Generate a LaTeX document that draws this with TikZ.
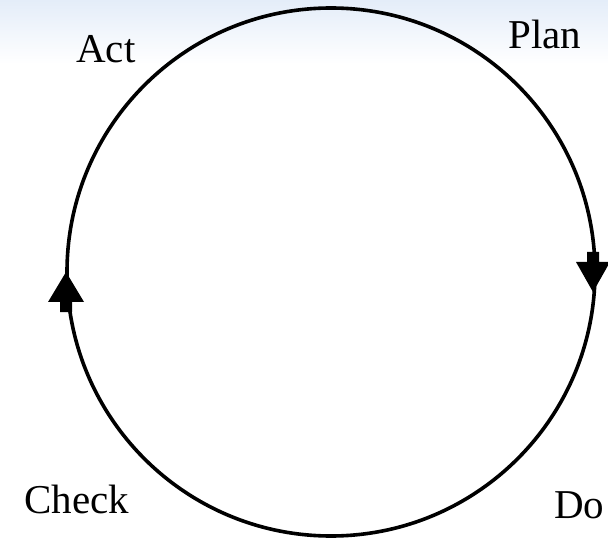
\documentclass[tikz,border=0pt]{standalone}
\usepackage{fontspec}
\setmainfont{Liberation Serif}
\definecolor{bgblue}{HTML}{E4EDF9}
\tikzset{
  cycleline/.style={line width=3.6pt, black},
  lbl/.style={inner sep=0pt, anchor=base west, font=\fontsize{41}{41}\selectfont},
  headfill/.style={fill=black}
}
\begin{document}
\begin{tikzpicture}[x=1pt,y=1pt]
\useasboundingbox (0,0) rectangle (608,539);
\fill[white] (0,0) rectangle (608,539);
\shade[top color=bgblue, bottom color=white] (0,475) rectangle (608,539);
% circle points
\coordinate (ctr) at (331,267);
\coordinate (top) at (331,531);
\coordinate (bot) at (331,3);
% right half (Plan -> Do), going down
\draw[cycleline] (top) arc[start angle=90, end angle=-90, radius=264];
% left half (Check -> Act), going up
\draw[cycleline] (bot) arc[start angle=270, end angle=90, radius=264];
% arrow heads
\coordinate (rtip) at (593,247);
\fill[headfill] (rtip) -- (576,277) -- (587,277) -- (587,287) -- (599,287) -- (599,277) -- (610,277) -- cycle;
\coordinate (ltip) at (66,267);
\fill[headfill] (ltip) -- (84,237) -- (72,237) -- (72,227) -- (60,227) -- (60,237) -- (48,237) -- cycle;
% labels
\node[lbl] (act) at (76,476) {Act};
\node[lbl] (plan) at (508,490) {Plan};
\node[lbl] (check) at (24,26) {Check};
\node[lbl] (do) at (554,21) {Do};
\end{tikzpicture}
\end{document}
